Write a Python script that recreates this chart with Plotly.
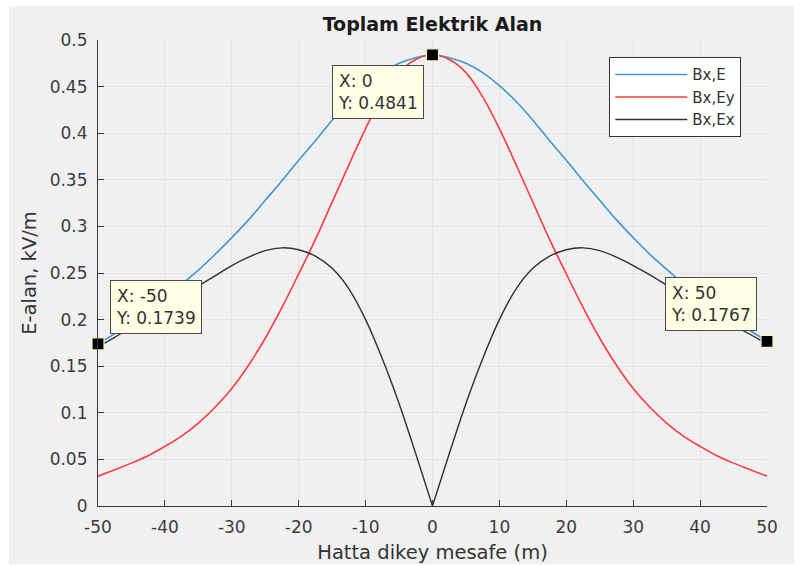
import plotly.graph_objects as go

# Distance from the line centre (m)
distance = [-50, -47.5, -45, -42.5, -40, -37.5, -35, -32.5, -30, -27.5, -25,
            -22.5, -20, -17.5, -15, -12.5, -10, -7.5, -5, -2.5, 0,
            2.5, 5, 7.5, 10, 12.5, 15, 17.5, 20, 22.5, 25,
            27.5, 30, 32.5, 35, 37.5, 40, 42.5, 45, 47.5, 50]

# Total field magnitude (kV/m)
e_total = [0.1739, 0.185, 0.197, 0.210, 0.224, 0.238, 0.253, 0.270, 0.288, 0.307, 0.328,
           0.349, 0.371, 0.392, 0.414, 0.434, 0.451, 0.465, 0.475, 0.481, 0.4841,
           0.481, 0.475, 0.465, 0.451, 0.434, 0.414, 0.392, 0.371, 0.349, 0.328,
           0.307, 0.288, 0.270, 0.254, 0.239, 0.225, 0.212, 0.199, 0.188, 0.1767]

# Vertical component (kV/m)
e_y = [0.032, 0.039, 0.046, 0.054, 0.064, 0.075, 0.089, 0.106, 0.126, 0.151, 0.180,
       0.213, 0.249, 0.286, 0.326, 0.366, 0.405, 0.439, 0.465, 0.479, 0.4841,
       0.479, 0.465, 0.439, 0.405, 0.366, 0.326, 0.286, 0.249, 0.213, 0.180,
       0.151, 0.126, 0.106, 0.089, 0.075, 0.064, 0.054, 0.046, 0.039, 0.032]

# Horizontal component (kV/m)
e_x = [0.171, 0.181, 0.192, 0.203, 0.214, 0.225, 0.236, 0.247, 0.258, 0.267, 0.274,
       0.277, 0.275, 0.268, 0.255, 0.233, 0.200, 0.158, 0.110, 0.056, 0.000,
       0.056, 0.110, 0.158, 0.200, 0.233, 0.255, 0.268, 0.275, 0.277, 0.274,
       0.267, 0.258, 0.248, 0.237, 0.226, 0.215, 0.204, 0.194, 0.184, 0.174]

series_names = ["Bx,E", "Bx,Ey", "Bx,Ex"]
tip_positions = [-50, 0, 50]

x_ticks = [-50, -40, -30, -20, -10, 0, 10, 20, 30, 40, 50]
y_ticks = [0, 0.05, 0.1, 0.15, 0.2, 0.25, 0.3, 0.35, 0.4, 0.45, 0.5]

FONT = "DejaVu Sans"
BLUE = "#3f97d6"
RED = "#ff3b3b"
BLACK = "#303030"
AXIS = "#3a3a3a"
GRID = "#e2e2e2"

fig = go.Figure()

fig.add_trace(go.Scatter(x=distance, y=e_total, name=series_names[0], mode="lines",
                         line=dict(color=BLUE, width=1.6, shape="spline", smoothing=1)))
fig.add_trace(go.Scatter(x=distance, y=e_y, name=series_names[1], mode="lines",
                         line=dict(color=RED, width=1.6, shape="spline", smoothing=1)))

# Ex has a sharp minimum at x = 0, so each side is smoothed separately
mid = distance.index(0)
fig.add_trace(go.Scatter(x=distance[:mid + 1], y=e_x[:mid + 1], name=series_names[2],
                         legendgroup="ex", mode="lines",
                         line=dict(color=BLACK, width=1.4, shape="spline", smoothing=1)))
fig.add_trace(go.Scatter(x=distance[mid:], y=e_x[mid:], name=series_names[2],
                         legendgroup="ex", showlegend=False, mode="lines",
                         line=dict(color=BLACK, width=1.4, shape="spline", smoothing=1)))

# Data tips on the total field curve
tip_x = tip_positions
tip_y = [e_total[distance.index(v)] for v in tip_positions]
fig.add_trace(go.Scatter(x=tip_x, y=tip_y, mode="markers", showlegend=False,
                         cliponaxis=False, hoverinfo="skip",
                         marker=dict(symbol="square", size=12, color="black",
                                     line=dict(color="#f4f0c0", width=1.2))))

tip_layout = {
    -50: dict(xanchor="left", yanchor="bottom", xshift=12, yshift=10),
    0: dict(xanchor="right", yanchor="top", xshift=-9, yshift=-10),
    50: dict(xanchor="right", yanchor="bottom", xshift=-10, yshift=10),
}
for tx, ty in zip(tip_x, tip_y):
    fig.add_annotation(x=tx, y=ty, xref="x", yref="y",
                       text=f"X: {tx}<br>Y: {ty:.4f}", showarrow=False, align="left",
                       font=dict(family=FONT, size=17, color="#333333"),
                       bgcolor="#ffffe6", bordercolor="#4a4a4a", borderwidth=1,
                       borderpad=5, **tip_layout[tx])

# Figure panel behind the axes
fig.add_shape(type="rect", xref="paper", yref="paper", x0=-0.133, x1=1.04,
              y0=-0.125, y1=1.073, fillcolor="#f0f0f0", line=dict(width=0),
              layer="below")

axis_common = dict(showgrid=True, gridcolor=GRID, gridwidth=1, zeroline=False,
                   showline=True, linecolor=AXIS, linewidth=1.2, ticks="inside",
                   ticklen=6, tickcolor=AXIS, mirror=False, automargin=False,
                   tickfont=dict(family=FONT, size=17, color="#3c3c3c"))

fig.update_xaxes(range=[-50, 50], tickvals=x_ticks, ticktext=[str(v) for v in x_ticks],
                 ticklabelstandoff=5,
                 title=dict(text="Hatta dikey mesafe (m)", standoff=9,
                            font=dict(family=FONT, size=19.5, color="#333333")),
                 **axis_common)
fig.update_yaxes(range=[0, 0.5], tickvals=y_ticks, ticktext=[f"{v:g}" for v in y_ticks],
                 ticklabelstandoff=6,
                 title=dict(text="E-alan, kV/m", standoff=7,
                            font=dict(family=FONT, size=19.5, color="#333333")),
                 **axis_common)

fig.update_layout(
    width=803, height=565,
    margin=dict(l=98, r=36, t=40, b=59),
    paper_bgcolor="white", plot_bgcolor="white",
    title=dict(text="<b>Toplam Elektrik Alan</b>", x=0.5, xref="paper",
               y=1 - 24 / 565, yref="container", yanchor="middle", xanchor="center",
               font=dict(family=FONT, size=19, color="#1a1a1a")),
    legend=dict(x=0.764, y=0.9635, xanchor="left", yanchor="top",
                bgcolor="white", bordercolor="#333333", borderwidth=1.2,
                itemwidth=72, tracegroupgap=0,
                font=dict(family=FONT, size=15, color="#333333")),
    showlegend=True,
)

fig.write_html("out.html")
